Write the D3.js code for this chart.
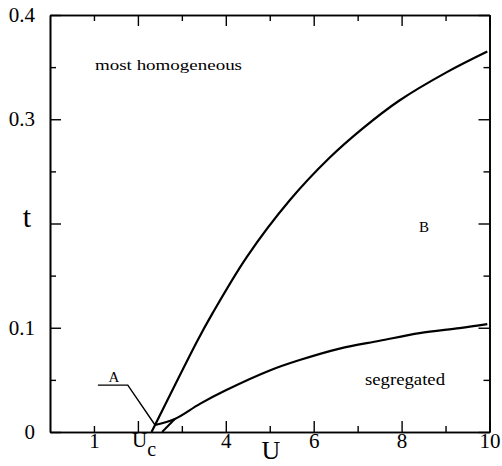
<!DOCTYPE html>
<html><head><meta charset="utf-8">
<script src="https://cdn.jsdelivr.net/npm/d3@7"></script>
<style>
body{margin:0;background:#fff;}
</style></head>
<body><svg id="c" width="502" height="466"></svg>
<script>
// Phase boundary curves (U, t)
const upperU = [2.31, 2.39, 3.36, 3.70, 4.48, 5.45, 6.36, 7.11, 7.95, 9.02, 9.95];
const upperT = [0.0, 0.0067, 0.088, 0.114, 0.168, 0.222, 0.263, 0.291, 0.318, 0.345, 0.365];
const lowerU = [2.39, 2.84, 3.41, 4.0, 5.0, 5.68, 6.59, 7.5, 8.41, 9.32, 9.95];
const lowerT = [0.0067, 0.0125, 0.027, 0.040, 0.059, 0.069, 0.080, 0.0875, 0.0949, 0.0997, 0.1035];
const edgeU = [2.55, 2.84];
const edgeT = [0.0, 0.0125];
const pointerU = [1.09, 1.77, 2.39];
const pointerT = [0.045, 0.045, 0.0067];

const xMajor = [2, 4, 6, 8, 10];
const xMinor = [1, 3, 5, 7, 9];
const xMajorLabels = ["", "4", "6", "8", "10"];
const yMajor = [0, 0.1, 0.2, 0.3, 0.4];
const yMinor = [0.05, 0.15, 0.25, 0.35];
const yMajorLabels = ["0", "0.1", "", "0.3", "0.4"];

const FONT = "'Liberation Serif', 'Times New Roman', Times, 'DejaVu Serif', serif";
const svg = d3.select("#c");
const x = d3.scaleLinear().domain([0, 10]).range([50, 489.5]);
const y = d3.scaleLinear().domain([0, 0.4]).range([432, 15]);

function styleAxis(g){ g.attr("font-family", FONT); g.select(".domain").attr("stroke","#000").attr("stroke-width",1.6); g.selectAll(".tick line").attr("stroke","#000").attr("stroke-width",1.4); g.selectAll("text").style("font-size","21px"); }

const bMaj = svg.append("g").attr("transform",`translate(0,${y(0)})`)
  .call(d3.axisBottom(x).tickValues(xMajor).tickSizeInner(-11).tickSizeOuter(0).tickPadding(1).tickFormat((d,i)=>xMajorLabels[i]));
styleAxis(bMaj);
const bMin = svg.append("g").attr("transform",`translate(0,${y(0)})`)
  .call(d3.axisBottom(x).tickValues(xMinor).tickSizeInner(-6).tickSizeOuter(0).tickPadding(1).tickFormat(d=>d===1?"1":""));
styleAxis(bMin);

const tMaj = svg.append("g").attr("transform",`translate(0,${y(0.4)})`)
  .call(d3.axisTop(x).tickValues(xMajor).tickSizeInner(-11).tickSizeOuter(0).tickFormat(""));
styleAxis(tMaj);
const tMin = svg.append("g").attr("transform",`translate(0,${y(0.4)})`)
  .call(d3.axisTop(x).tickValues(xMinor).tickSizeInner(-6).tickSizeOuter(0).tickFormat(""));
styleAxis(tMin);

const lMaj = svg.append("g").attr("transform",`translate(${x(0)},0)`)
  .call(d3.axisLeft(y).tickValues(yMajor).tickSizeInner(-11).tickSizeOuter(0).tickPadding(15).tickFormat((d,i)=>yMajorLabels[i]));
styleAxis(lMaj);
const lMin = svg.append("g").attr("transform",`translate(${x(0)},0)`)
  .call(d3.axisLeft(y).tickValues(yMinor).tickSizeInner(-6).tickSizeOuter(0).tickFormat(""));
styleAxis(lMin);

const rMaj = svg.append("g").attr("transform",`translate(${x(10)},0)`)
  .call(d3.axisRight(y).tickValues(yMajor).tickSizeInner(-11).tickSizeOuter(0).tickFormat(""));
styleAxis(rMaj);
const rMin = svg.append("g").attr("transform",`translate(${x(10)},0)`)
  .call(d3.axisRight(y).tickValues(yMinor).tickSizeInner(-6).tickSizeOuter(0).tickFormat(""));
styleAxis(rMin);

// Uc label
const uc = svg.append("text").attr("x", 144).attr("y", 447).attr("text-anchor","middle").style("font-size","21px");
uc.append("tspan").text("U");
uc.append("tspan").attr("dy", 9).style("font-size","20px").text("c");

// axis titles
svg.append("text").attr("x", 27).attr("y", 227).attr("text-anchor","middle").style("font-size","30px").text("t");
svg.append("text").attr("x", 271).attr("y", 459).attr("text-anchor","middle").style("font-size","26px").text("U");

// curves
const line = d3.line().x(d=>x(d[0])).y(d=>y(d[1])).curve(d3.curveCatmullRom.alpha(0.5));
const straight = d3.line().x(d=>x(d[0])).y(d=>y(d[1]));
function pts(a,b){ return a.map((v,i)=>[v,b[i]]); }
svg.append("path").attr("d", line(pts(upperU, upperT))).attr("fill","none").attr("stroke","#000").attr("stroke-width",2.2);
svg.append("path").attr("d", line(pts(lowerU, lowerT))).attr("fill","none").attr("stroke","#000").attr("stroke-width",2.2);
svg.append("path").attr("d", straight(pts(edgeU, edgeT))).attr("fill","none").attr("stroke","#000").attr("stroke-width",2);
svg.append("path").attr("d", straight(pts(pointerU, pointerT))).attr("fill","none").attr("stroke","#000").attr("stroke-width",1.4);

// region labels
svg.append("text").attr("x", 114).attr("y", 382).attr("text-anchor","middle").style("font-size","15px").text("A");
svg.append("text").attr("x", 424).attr("y", 232).attr("text-anchor","middle").style("font-size","15px").text("B");
svg.append("text").attr("x", 95).attr("y", 70).style("font-size","15px").attr("textLength",147).attr("lengthAdjust","spacingAndGlyphs").text("most homogeneous");
svg.append("text").attr("x", 365).attr("y", 385).style("font-size","16px").attr("textLength",80).attr("lengthAdjust","spacingAndGlyphs").text("segregated");

svg.selectAll("text").style("font-family", FONT).style("fill", "#000");
</script></body></html>
